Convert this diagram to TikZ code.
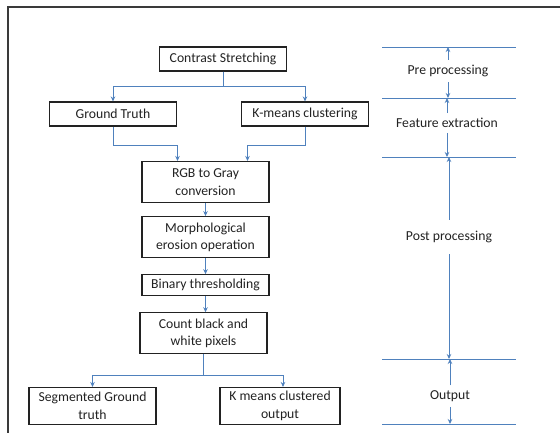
\documentclass[tikz,border=0pt]{standalone}
\usepackage{fontspec}
\setmainfont{Carlito}
\usetikzlibrary{arrows.meta,positioning}
\definecolor{ink}{HTML}{222222}
\definecolor{flow}{HTML}{4F81BD}
\definecolor{rim}{HTML}{3A3A3A}

\begin{document}
\begin{tikzpicture}[x=1pt,y=-1pt,font=\fontsize{13.7}{17.5}\selectfont,text=ink,box/.style={draw=ink,line width=1.1pt,align=center,minimum width=127pt,minimum height=24pt,inner sep=2pt},tall/.style={box,minimum height=41pt},arr/.style={-{Stealth[length=5pt,width=4.5pt]},draw=flow,line width=0.9pt},stage/.style={inner ysep=5pt},rule/.style={draw=flow,line width=1pt}]
\useasboundingbox (0,0) rectangle (560,432);
\clip (0,0) rectangle (560,432);
\draw[rim,line width=1.3pt] (8,7) rectangle (570,440);
% flow chart
\node[box] (cs) at (223,59) {Contrast Stretching};
\node[box] (gt) at (113,114) {Ground Truth};
\node[box] (km) at (305,114) {K-means clustering};
\node[tall] (rgb) at (205.5,182) {RGB to Gray\\conversion};
\node[tall,below=13pt of rgb] (ero) {Morphological\\erosion operation};
\node[box,minimum height=21pt,below=16pt of ero] (bin) {Binary thresholding};
\node[tall,below=16pt of bin,xshift=-2pt] (cnt) {Count black and\\white pixels};
\node[box,minimum height=37pt] (seg) at (92.5,406) {Segmented Ground\\truth};
\node[box,minimum height=37pt,minimum width=120pt] (kmo) at (280,406) {K means clustered\\output};
\draw[arr] (cs.south) -- ++(0,15) -| (gt.north);
\draw[arr] (cs.south) -- ++(0,15) -| (km.north);
\draw[arr] (gt.south) -- ++(0,19) -| ([xshift=-28pt]rgb.north);
\draw[arr] (km.south) -- ++(0,19) -| ([xshift=42pt]rgb.north);
\draw[arr] (rgb.south) -- (ero.north);
\draw[arr] (ero.south) -- (bin.north);
\draw[arr] (bin.south) -- (bin.south |- cnt.north);
\draw[arr] (cnt.south) -- ++(0,21) -| (seg.north);
\draw[arr] (cnt.south) -- ++(0,21) -| ([xshift=3pt]kmo.north);
% stages
\foreach \y/\n in {47/h1,98/h2,157/h3,359/h4,424/h5}
  \coordinate (\n) at (382,\y);
\foreach \n in {h1,h2,h3,h4,h5}
  \draw[rule] (\n) -- ++(134,0);
\node[stage] (pre) at (448,71) {Pre processing};
\node[stage] (fea) at (447,123) {Feature extraction};
\node[stage,inner ysep=11pt] (post) at (449,237) {Post processing};
\node[stage] (outp) at (450,396) {Output};
\draw[arr] (pre.north) -- (pre.north |- h1);
\draw[arr] (pre.south) -- (pre.south |- h2);
\draw[arr] (fea.north) -- (fea.north |- h2);
\draw[arr] (fea.south) -- (fea.south |- h3);
\draw[arr] (post.north) -- (post.north |- h3);
\draw[arr] (post.south) -- (post.south |- h4);
\draw[arr] (outp.north) -- (outp.north |- h4);
\draw[arr] (outp.south) -- (outp.south |- h5);
\end{tikzpicture}
\end{document}
